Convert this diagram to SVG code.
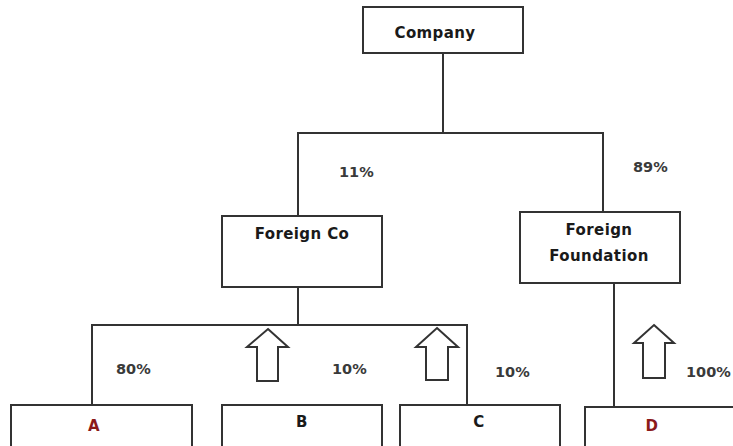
<svg xmlns="http://www.w3.org/2000/svg" width="733" height="446" viewBox="0 0 733 446">
  <style>
    .box { fill: #ffffff; stroke: #333333; stroke-width: 2; }
    .wire { fill: none; stroke: #333333; stroke-width: 2; }
    .up { fill: #ffffff; stroke: #333333; stroke-width: 2; stroke-linejoin: miter; }
    .name { font-family: "DejaVu Sans", Verdana, sans-serif; font-weight: bold; font-size: 15px; fill: #1a1a1a; text-anchor: middle; letter-spacing: 0.4px; }
    .sub { fill: #8b1a1a; }
    .pct { font-family: "DejaVu Sans", Verdana, sans-serif; font-weight: bold; font-size: 14.5px; fill: #3a3a3a; }
  </style>

  <!-- ownership connectors -->
  <g id="connectors">
    <path class="wire" d="M443,53 V133 M298,216 V133 H603 V212"/>
    <path class="wire" d="M298,287 V325 M92,405 V325 H467 V405"/>
    <path class="wire" d="M614,283 V407"/>
  </g>

  <!-- block arrows pointing upwards -->
  <g id="flows">
    <path class="up" d="M268,329 L288,347 H278 V381 H257 V347 H247 Z"/>
    <path class="up" d="M437,328 L458,347 H448 V380 H426 V347 H416 Z"/>
    <path class="up" d="M654,325 L674,343 H665 V378 H643 V343 H634 Z"/>
  </g>

  <g id="labels">
    <text class="pct" x="339" y="177">11%</text>
    <text class="pct" x="633" y="172">89%</text>
    <text class="pct" x="116" y="374">80%</text>
    <text class="pct" x="332" y="374">10%</text>
    <text class="pct" x="495" y="377">10%</text>
    <text class="pct" x="686" y="377" font-size="13">100%</text>
  </g>

  <g id="company">
    <rect class="box" x="363" y="7" width="160" height="46"/>
    <text class="name" x="435" y="38">Company</text>
  </g>

  <g id="foreign-co">
    <rect class="box" x="222" y="216" width="160" height="71"/>
    <text class="name" x="302" y="239">Foreign Co</text>
  </g>

  <g id="foreign-foundation">
    <rect class="box" x="520" y="212" width="160" height="71"/>
    <text class="name" x="599" y="235">Foreign</text>
    <text class="name" x="599" y="261">Foundation</text>
  </g>

  <g id="sub-a">
    <rect class="box" x="11" y="405" width="181" height="60"/>
    <text class="name sub" x="94" y="431">A</text>
  </g>

  <g id="sub-b">
    <rect class="box" x="222" y="405" width="160" height="60"/>
    <text class="name" x="302" y="427">B</text>
  </g>

  <g id="sub-c">
    <rect class="box" x="400" y="405" width="160" height="60"/>
    <text class="name" x="479" y="427">C</text>
  </g>

  <g id="sub-d">
    <rect class="box" x="585" y="407" width="160" height="60"/>
    <text class="name sub" x="652" y="431">D</text>
  </g>
</svg>
